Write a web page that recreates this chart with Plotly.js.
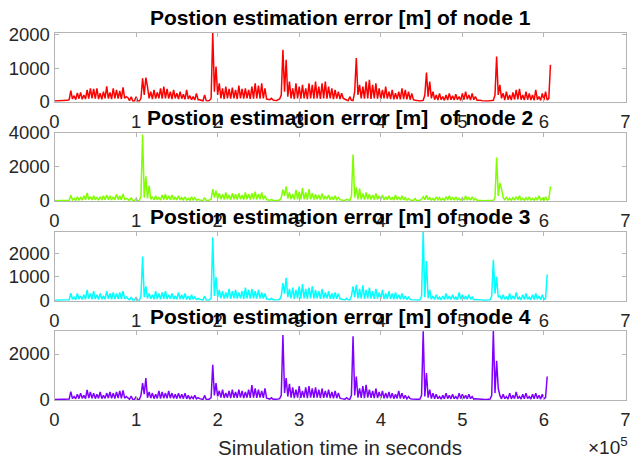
<!DOCTYPE html>
<html>
<head>
<meta charset="utf-8">
<script src="https://cdn.plot.ly/plotly-3.0.1.min.js"></script>
<style>html,body{margin:0;padding:0;background:#fff;}#chart{width:630px;height:459px;}</style>
</head>
<body>
<div id="chart"></div>
<script>
// Sampling: one value every 2000 s starting at t = 0
var sampleStart = 0;
var sampleStep = 2000;

var xTickVals = [0, 100000, 200000, 300000, 400000, 500000, 600000, 700000];
var xTickText = ["0", "1", "2", "3", "4", "5", "6", "7"];

var nodeTitles = [
  "Postion estimation error [m] of node 1",
  "Postion estimation error [m]  of node 2",
  "Postion estimation error [m] of node 3",
  "Postion estimation error [m] of node 4"
];
var nodeColors = ["#ff0000", "#80ff00", "#00ffff", "#8000ff"];
var yTickVals = [[0, 1000, 2000], [0, 2000, 4000], [0, 1000, 2000], [0, 2000]];
var yRanges = [[0, 2050], [0, 4000], [0, 2900], [0, 3000]];

var node1Err = [
  20,20,20,20,20,20,30,30,40,60,
  330,80,180,60,260,90,280,70,200,80,350,90,400,100,380,90,400,80,250,70,300,100,460,90,280,80,400,100,350,90,320,80,430,100,
  150,120,30,150,20,20,150,20,20,
  100,700,200,720,
  450,100,300,80,350,90,280,100,400,90,450,100,380,90,300,80,350,100,250,80,300,90,220,70,350,80,180,60,150,50,250,60,
  60,30,20,200,30,20,40,
  100,2050,300,1050,
  200,550,100,400,80,450,100,380,90,420,100,350,80,480,100,380,90,400,100,350,80,450,90,550,100,480,90,550,100,400,80,
  80,60,100,50,40,30,60,80,
  200,1550,300,1250,
  150,600,100,400,80,550,100,450,90,500,100,400,80,550,100,500,90,600,100,450,80,550,100,600,90,450,100,400,80,350,90,300,80,250,
  100,80,50,30,150,40,30,
  300,1300,200,500,
  100,450,90,600,100,650,80,500,100,550,90,400,80,350,100,450,90,300,80,350,70,250,80,300,70,400,80,350,70,300,60,250,
  60,40,30,30,20,30,40,
  200,870,150,600,
  100,300,60,200,50,250,60,150,40,200,50,250,60,180,50,220,60,150,40,250,60,300,70,200,50,250,60,150,40,50,40,
  30,20,20,20,20,20,20,40,
  200,1350,200,500,
  100,250,50,300,60,200,50,280,60,350,70,380,60,200,50,300,60,250,50,200,40,350,60,150,40,250,50,300,
  50,100,1100
];

var node2Err = [
  20,20,20,20,20,20,20,20,30,50,
  340,60,150,40,250,60,200,50,300,70,470,80,250,60,300,70,200,50,250,60,300,70,350,80,300,60,250,70,400,80,300,70,420,80,
  150,100,30,200,20,20,150,20,20,
  300,3900,200,1450,
  150,900,100,250,60,300,70,200,60,350,80,400,70,300,80,350,70,250,60,300,70,200,60,250,50,150,40,250,60,200,50,100,
  60,30,20,200,30,20,40,
  100,700,200,600,
  150,450,100,400,90,500,100,350,80,450,100,400,90,450,100,350,80,500,100,400,90,450,100,550,90,400,100,500,90,300,80,
  60,40,100,30,30,20,40,60,
  200,670,300,860,
  150,500,100,400,80,650,100,550,90,750,100,500,80,700,100,450,90,400,100,350,80,450,90,300,100,350,80,250,70,300,80,200,
  80,60,40,30,100,40,30,
  300,2720,200,800,
  100,720,90,450,80,500,100,400,90,350,80,450,90,300,80,350,70,250,80,300,70,200,60,350,70,250,60,300,60,200,50,150,
  60,40,30,150,20,30,40,
  100,250,80,330,
  80,200,50,150,40,250,60,200,50,150,40,250,60,300,60,200,50,250,60,150,40,200,50,300,60,200,50,250,60,150,40,50,40,
  30,20,20,20,20,20,20,40,
  200,2550,300,1060,
  720,200,50,250,60,150,40,200,50,250,60,300,60,150,40,200,50,250,60,150,40,200,50,300,60,150,40,250,
  50,100,860
];

var node3Err = [
  20,20,20,20,20,20,20,20,30,40,
  315,60,150,40,300,70,200,50,250,60,450,80,300,60,400,70,250,50,300,60,200,70,400,80,300,60,350,70,300,80,350,70,400,80,
  150,100,30,150,20,20,150,20,20,
  200,1860,150,600,
  100,300,80,250,60,400,70,300,60,350,80,400,70,250,80,300,70,200,60,350,70,250,60,300,50,200,40,250,60,150,50,100,
  60,30,20,200,30,20,40,
  100,2670,200,990,
  150,450,100,400,90,350,100,500,80,400,100,450,90,350,100,400,80,550,100,450,90,500,100,400,90,450,100,350,90,300,80,
  60,40,100,30,30,20,40,60,
  200,740,300,960,
  150,500,100,550,80,450,100,600,90,700,100,500,80,550,100,600,90,450,100,400,80,500,90,350,100,400,80,300,70,350,80,300,
  80,60,40,30,100,40,30,
  200,600,150,670,
  100,500,90,650,80,450,100,550,90,400,80,500,90,350,80,450,70,300,80,400,70,300,60,350,70,250,60,300,60,200,50,150,
  60,40,30,30,20,30,40,
  200,2900,150,1670,
  100,460,60,200,50,250,60,150,40,200,50,300,60,200,50,250,60,150,40,350,60,250,70,200,50,250,60,150,40,50,40,
  30,20,20,20,20,20,20,40,
  200,1720,300,1000,
  150,200,50,250,60,150,40,300,50,200,60,350,60,150,40,250,50,300,60,150,40,250,50,300,60,200,40,250,
  50,100,1100
];

var node4Err = [
  20,20,20,20,20,20,20,20,30,40,
  365,60,150,50,250,60,300,70,200,60,440,80,350,70,300,60,250,70,350,60,200,70,300,80,350,70,300,60,350,80,400,70,420,80,
  150,100,30,175,20,20,150,20,20,
  200,730,250,950,
  100,350,80,300,60,250,70,400,60,350,80,300,70,400,80,300,70,250,60,300,70,250,60,300,50,200,40,150,60,200,50,100,
  60,30,20,200,30,20,40,
  100,1530,200,730,
  150,400,100,450,90,300,100,400,80,450,100,350,90,450,100,400,80,350,100,450,90,650,100,500,90,450,100,400,90,500,80,
  60,40,100,30,30,20,40,60,
  200,2820,300,950,
  150,700,100,550,80,450,100,600,90,400,100,550,80,600,100,500,90,550,100,450,80,500,90,400,100,450,80,350,70,400,80,300,
  80,60,40,30,100,40,30,
  200,2770,200,1020,
  100,510,90,600,80,660,100,450,90,400,80,500,90,350,80,400,70,300,80,350,70,300,60,250,70,400,60,300,60,200,50,150,
  60,40,30,30,20,30,40,
  200,2990,150,1170,
  100,450,60,300,50,250,60,150,40,200,50,300,60,200,50,250,60,150,40,300,60,250,70,200,50,250,60,150,40,50,40,
  30,20,20,20,20,20,20,40,
  200,3000,300,1710,
  510,200,50,250,60,150,40,300,50,200,60,350,60,150,40,250,50,300,60,150,40,250,50,300,60,200,40,250,
  50,100,1020
];

var allSeries = [node1Err, node2Err, node3Err, node4Err];

var W = 630, H = 459;
var plotLeft = 54.5, plotRight = 625.5;
var plotTops = [33, 132.7, 231.7, 331];
var plotBottoms = [101.7, 201, 300.7, 400];

var fontFam = "Liberation Sans, Arial, sans-serif";
var tickFont = {family: fontFam, size: 18.5, color: "#262626"};
var axisColor = "#b4b4b4";

var traces = [];
var layout = {
  width: W, height: H,
  margin: {l: 0, r: 0, t: 0, b: 0},
  paper_bgcolor: "#ffffff",
  plot_bgcolor: "#ffffff",
  showlegend: false,
  annotations: []
};

for (var k = 0; k < 4; k++) {
  var sfx = k === 0 ? "" : String(k + 1);
  traces.push({
    type: "scatter", mode: "lines",
    y: allSeries[k], x0: sampleStart, dx: sampleStep,
    xaxis: "x" + sfx, yaxis: "y" + sfx,
    line: {color: nodeColors[k], width: 1.5},
    hoverinfo: "skip"
  });
  var dom = [1 - plotBottoms[k] / H, 1 - plotTops[k] / H];
  layout["xaxis" + sfx] = {
    domain: [plotLeft / W, plotRight / W],
    anchor: "y" + sfx,
    range: [0, 700000],
    tickmode: "array", tickvals: xTickVals, ticktext: xTickText,
    ticks: "inside", ticklen: 4, tickcolor: axisColor, tickwidth: 1,
    showline: true, linecolor: axisColor, linewidth: 1, mirror: "ticks",
    showgrid: false, zeroline: false,
    ticklabeloverflow: "allow", ticklabelstandoff: 3,
    tickfont: tickFont, automargin: false, fixedrange: true
  };
  layout["yaxis" + sfx] = {
    domain: dom,
    anchor: "x" + sfx,
    range: yRanges[k],
    tickmode: "array", tickvals: yTickVals[k],
    ticks: "inside", ticklen: 4, tickcolor: axisColor, tickwidth: 1,
    showline: true, linecolor: axisColor, linewidth: 1, mirror: "ticks",
    showgrid: false, zeroline: false,
    ticklabeloverflow: "allow",
    tickfont: tickFont, automargin: false, fixedrange: true
  };
  layout.annotations.push({
    xref: "paper", yref: "paper",
    x: (plotLeft + plotRight) / 2 / W,
    y: 1 - (plotTops[k] - 15) / H,
    xanchor: "center", yanchor: "middle",
    text: "<b>" + nodeTitles[k].replace(/  /g, " &nbsp;") + "</b>",
    showarrow: false,
    font: {family: fontFam, size: 21, color: "#000000"}
  });
}

layout.xaxis4.title = {
  text: "Simulation time in seconds",
  font: {family: fontFam, size: 20.5, color: "#262626"},
  standoff: 12
};

layout.annotations.push({
  xref: "paper", yref: "paper",
  x: 630 / W, y: 1 - 446 / H,
  xanchor: "right", yanchor: "middle",
  text: "×10<sup>5</sup>",
  showarrow: false,
  font: {family: fontFam, size: 19, color: "#262626"}
});

Plotly.newPlot("chart", traces, layout, {displayModeBar: false, staticPlot: true});
</script>
</body>
</html>
